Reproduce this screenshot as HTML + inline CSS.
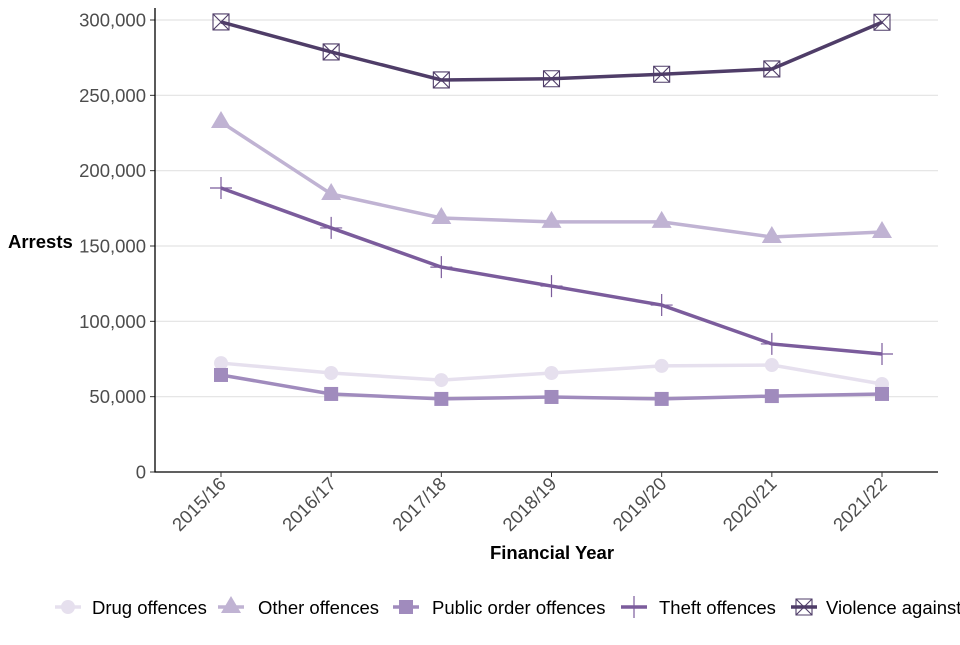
<!DOCTYPE html>
<html><head><meta charset="utf-8"><style>
body{margin:0;background:#fff;}
svg{font-family:"Liberation Sans",Arial,sans-serif;}
</style></head><body>
<svg id="c" width="960" height="640"></svg>
<script>
const categories=["2015/16","2016/17","2017/18","2018/19","2019/20","2020/21","2021/22"];
const yTicks=[0,50000,100000,150000,200000,250000,300000];
const drug=[72300,65700,61000,65700,70400,71000,58400];
const other=[232300,184500,168600,166000,166000,156000,159300];
const publicOrder=[64400,51800,48500,49800,48500,50400,51800];
const theft=[188500,162000,136000,123400,110800,85000,78300];
const violence=[298700,278800,260200,261000,264000,267500,298500];
const NS="http://www.w3.org/2000/svg";
const svg=document.getElementById('c');
const L=155,R=938,T=8,B=472;
const FS=18.5;
const x=i=>221+i*(882-221)/6;
const y=v=>472-v*(452/300000);
function el(t,a,p){const e=document.createElementNS(NS,t);for(const k in a)e.setAttribute(k,a[k]);(p||svg).appendChild(e);return e;}
const grid=el('g',{});
yTicks.forEach(v=>{if(v>0)el('line',{x1:L,x2:R,y1:y(v),y2:y(v),stroke:'#e3e3e3','stroke-width':1.2},grid);
 const t=el('text',{x:146,y:y(v)+6.5,'text-anchor':'end','font-size':FS,fill:'#4d4d4d'});t.textContent=v.toLocaleString('en-US');
 
 el('line',{x1:150,x2:155,y1:y(v),y2:y(v),stroke:'#333'});});
const ax=el('path',{d:`M${L} ${T}V${B}H${R}`,fill:'none',stroke:'#000','stroke-width':1.3});

categories.forEach((c,i)=>{el('line',{x1:x(i),x2:x(i),y1:B,y2:B+5,stroke:'#333'});
 const t=el('text',{x:x(i)+6,y:B+13,'text-anchor':'end','font-size':FS,fill:'#4d4d4d',transform:`rotate(-45 ${x(i)+6} ${B+13})`});t.textContent=c;
 });
let t=el('text',{x:552,y:559,'text-anchor':'middle','font-size':FS,'font-weight':'bold'});t.textContent='Financial Year';

t=el('text',{x:8,y:248,'font-size':FS,'font-weight':'bold'});t.textContent='Arrests';

function marker(kind,cx,cy,col,g){
 if(kind==='circle')el('circle',{cx,cy,r:7,fill:col},g);
 else if(kind==='tri')el('path',{d:`M${cx} ${cy-11}L${cx+10} ${cy+6}L${cx-10} ${cy+6}Z`,fill:col},g);
 else if(kind==='sq')el('rect',{x:cx-7,y:cy-7,width:14,height:14,fill:col},g);
 else if(kind==='plus')el('path',{d:`M${cx-11} ${cy}H${cx+11}M${cx} ${cy-11}V${cy+11}`,stroke:col,'stroke-width':1.2},g);
 else el('path',{d:`M${cx-8} ${cy-8}h16v16h-16zM${cx-8} ${cy-8}L${cx+8} ${cy+8}M${cx+8} ${cy-8}L${cx-8} ${cy+8}`,fill:'none',stroke:col,'stroke-width':1.1},g);
}
const series=[["drug",drug,'#e6e0ee','circle','Drug offences',68,92],
["other",other,'#c0b3d3','tri','Other offences',231,258],
["public-order",publicOrder,'#a08bbd','sq','Public order offences',406,432],
["theft",theft,'#7b5c9c','plus','Theft offences',634,659],
["violence",violence,'#4f3d68','x','Violence against the person',804,826]];
series.forEach(s=>{const g=el('g',{});
 el('polyline',{points:s[1].map((v,i)=>x(i)+','+y(v)).join(' '),fill:'none',stroke:s[2],'stroke-width':3.5},g);
 s[1].forEach((v,i)=>marker(s[3],x(i),y(v),s[2],g));
 const lg=el('g',{});
 el('line',{x1:s[5]-13,x2:s[5]+13,y1:607,y2:607,stroke:s[2],'stroke-width':3.5},lg);
 marker(s[3],s[5],607,s[2],lg);
 const tt=el('text',{x:s[6],y:614,'font-size':FS,fill:'#000'},lg);tt.textContent=s[4];});
</script>
</body></html>
